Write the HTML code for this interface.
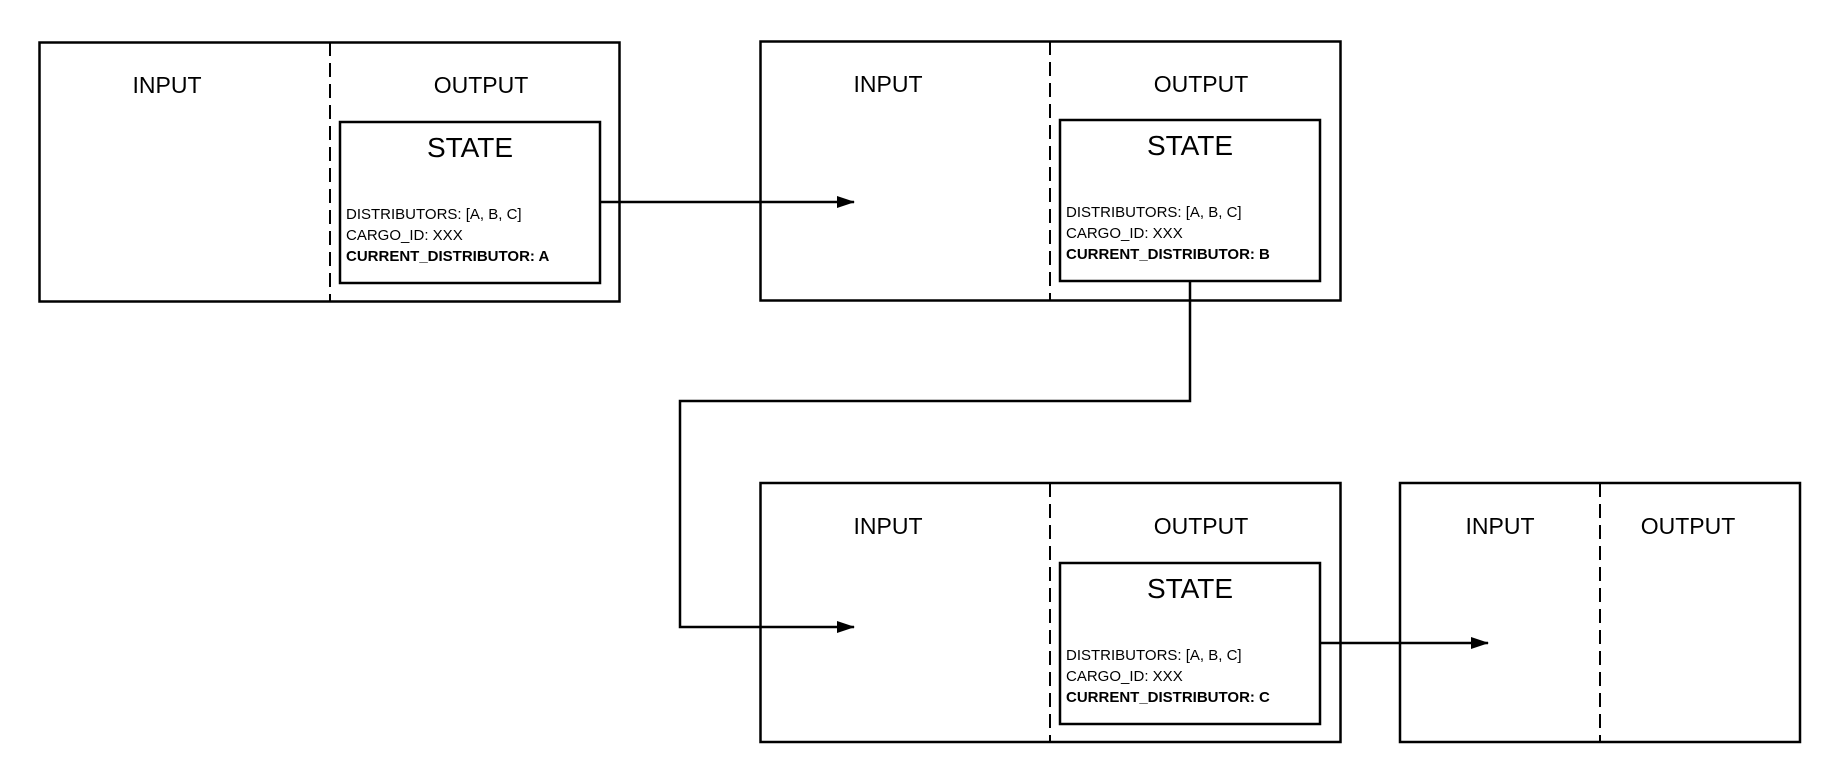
<!DOCTYPE html>
<html><head><meta charset="utf-8"><style>
html,body{margin:0;padding:0;background:#fff;}
svg{display:block}
text{font-family:"Liberation Sans Narrow","Liberation Sans",sans-serif;fill:#000}
.h{font-size:23px;text-anchor:middle}
.s{font-size:28px;text-anchor:middle}
.d{font-size:15px}
.b{font-weight:bold}
</style></head><body>
<svg width="1840" height="784" viewBox="0 0 1840 784">
<defs>
<marker id="a" markerWidth="18" markerHeight="12" refX="17" refY="6" orient="auto" markerUnits="userSpaceOnUse">
<path d="M0,0 L18,6 L0,12 z" fill="#000"/>
</marker>
</defs>
<g fill="none" stroke="#000" stroke-width="2.5">
<rect x="39.5" y="42.5" width="580" height="259"/>
<line x1="330" y1="42" x2="330" y2="302" stroke-dasharray="14 7" stroke-width="2"/>
<rect x="340" y="122" width="260" height="161"/>
<rect x="760.5" y="41.5" width="580" height="259"/>
<line x1="1050" y1="41" x2="1050" y2="301" stroke-dasharray="14 7" stroke-width="2"/>
<rect x="1060" y="120" width="260" height="161"/>
<rect x="760.5" y="483" width="580" height="259"/>
<line x1="1050" y1="483" x2="1050" y2="742" stroke-dasharray="14 7" stroke-width="2"/>
<rect x="1060" y="563" width="260" height="161"/>
<rect x="1400" y="483" width="400" height="259"/>
<line x1="1600" y1="483" x2="1600" y2="742" stroke-dasharray="14 7" stroke-width="2"/>
<polyline points="600,202 854,202" marker-end="url(#a)"/>
<polyline points="1190,281 1190,401 680,401 680,627 854,627" marker-end="url(#a)"/>
<polyline points="1320,643 1488,643" marker-end="url(#a)"/>
</g>
<text class="h" x="167" y="93">INPUT</text>
<text class="h" x="481" y="93">OUTPUT</text>
<text class="s" x="470" y="157">STATE</text>
<text class="d" x="346" y="219">DISTRIBUTORS: [A, B, C]</text>
<text class="d" x="346" y="240">CARGO_ID: XXX</text>
<text class="d b" x="346" y="261">CURRENT_DISTRIBUTOR: A</text>
<text class="h" x="888" y="92">INPUT</text>
<text class="h" x="1201" y="92">OUTPUT</text>
<text class="s" x="1190" y="155">STATE</text>
<text class="d" x="1066" y="217">DISTRIBUTORS: [A, B, C]</text>
<text class="d" x="1066" y="238">CARGO_ID: XXX</text>
<text class="d b" x="1066" y="259">CURRENT_DISTRIBUTOR: B</text>
<text class="h" x="888" y="534">INPUT</text>
<text class="h" x="1201" y="534">OUTPUT</text>
<text class="s" x="1190" y="598">STATE</text>
<text class="d" x="1066" y="660">DISTRIBUTORS: [A, B, C]</text>
<text class="d" x="1066" y="681">CARGO_ID: XXX</text>
<text class="d b" x="1066" y="702">CURRENT_DISTRIBUTOR: C</text>
<text class="h" x="1500" y="534">INPUT</text>
<text class="h" x="1688" y="534">OUTPUT</text>
</svg>
</body></html>
